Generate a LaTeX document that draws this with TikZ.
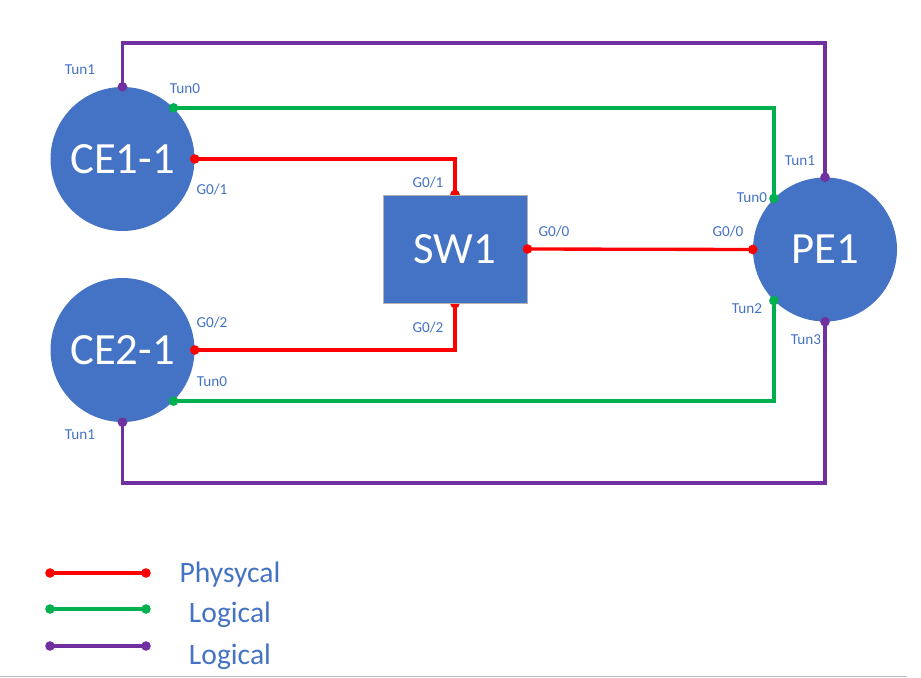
\documentclass[tikz,border=0pt]{standalone}
\usepackage{fontspec}
\setmainfont{Carlito}
\definecolor{nodeblue}{HTML}{4472C4}
\definecolor{lred}{HTML}{FF0000}
\definecolor{lgreen}{HTML}{00B050}
\definecolor{lpurple}{HTML}{7030A0}
\pgfdeclarelayer{front}
\pgfdeclarelayer{top}
\pgfsetlayers{main,front,top}
\begin{document}
\begin{tikzpicture}[x=0.75pt,y=-0.75pt,
  dev/.style={circle,fill=nodeblue,minimum size=108pt,inner sep=0pt,text=white,font=\fontsize{33.5}{38}\selectfont},
  swbox/.style={rectangle,fill=nodeblue,draw=gray!60,line width=0.75pt,minimum width=108pt,minimum height=81pt,inner sep=0pt,text=white,font=\fontsize{33.5}{38}\selectfont},
  lbl/.style={anchor=base,text=nodeblue,font=\fontsize{11.4}{13}\selectfont,inner sep=0pt},
  leg/.style={anchor=base,text=nodeblue,font=\fontsize{22.2}{26}\selectfont,inner sep=0pt},
  link/.style={line width=2.5pt},
  phys/.style={link,draw=lred},
  logg/.style={link,draw=lgreen},
  logp/.style={link,draw=lpurple}]
\useasboundingbox (0,0) rectangle (921,678);
\def\dotr{3.6pt}
% devices
\node[dev] (CE1) at (122.5,159) {CE1-1};
\node[dev] (CE2) at (122.5,350) {CE2-1};
\node[dev] (PE1) at (825,249.5) {PE1};
\begin{pgfonlayer}{front}
\node[swbox] (SW1) at (455,249) {SW1};
\end{pgfonlayer}
\coordinate (top) at (0,43);
\coordinate (bot) at (0,483);
% purple
\draw[logp] (CE1.north) -- (CE1.north |- top) -| (PE1.north);
\draw[logp] (CE2.south) -- (CE2.south |- bot) -| (PE1.south);
% green
\draw[logg] (CE1.45) -| (PE1.135);
\draw[logg] (CE2.-45) -| (PE1.225);
% red
\draw[phys] (CE1.east) -| (SW1.north);
\draw[phys] (CE2.east) -| (SW1.south);
\draw[phys] (SW1.east) -- (PE1.west);
% dots
\fill[lpurple] (CE1.north) circle (\dotr) (PE1.north) circle (\dotr) (CE2.south) circle (\dotr) (PE1.south) circle (\dotr);
\fill[lgreen] (CE1.45) circle (\dotr) (PE1.135) circle (\dotr) (CE2.-45) circle (\dotr) (PE1.225) circle (\dotr);
\fill[lred] (CE1.east) circle (\dotr) (CE2.east) circle (\dotr) (SW1.north) circle (\dotr) (SW1.south) circle (\dotr) (PE1.west) circle (\dotr);
\begin{pgfonlayer}{top}
\fill[lred] (SW1.east) circle (\dotr);
\end{pgfonlayer}
% labels
\node[lbl] (l1) at (80,74) {Tun1};
\node[lbl] (l2) at (185,93) {Tun0};
\node[lbl] (l3) at (212,194) {G0/1};
\node[lbl] (l4) at (428,187) {G0/1};
\node[lbl] (l5) at (428,332) {G0/2};
\node[lbl] (l6) at (554,236) {G0/0};
\node[lbl] (l7) at (728,236) {G0/0};
\node[lbl] (l8) at (800,165) {Tun1};
\node[lbl] (l9) at (752,202) {Tun0};
\node[lbl] (l10) at (747,313) {Tun2};
\node[lbl] (l11) at (806,344) {Tun3};
\node[lbl] (l12) at (212,327) {G0/2};
\node[lbl] (l13) at (212,386) {Tun0};
\node[lbl] (l14) at (80,439) {Tun1};
% legend
\coordinate (ra) at (50,573); \coordinate (rb) at (146,573);
\coordinate (ga) at (50,609); \coordinate (gb) at (146,609);
\coordinate (pa) at (50,646); \coordinate (pb) at (146,646);
\draw[phys] (ra) -- (rb);
\draw[logg] (ga) -- (gb);
\draw[logp] (pa) -- (pb);
\fill[lred] (ra) circle (\dotr) (rb) circle (\dotr);
\fill[lgreen] (ga) circle (\dotr) (gb) circle (\dotr);
\fill[lpurple] (pa) circle (\dotr) (pb) circle (\dotr);
\node[leg] (t1) at (230,582) {Physycal};
\node[leg] (t2) at (230,622) {Logical};
\node[leg] (t3) at (230,664) {Logical};
% bottom rule
\coordinate (ea) at (0,676.5); \coordinate (eb) at (907,676.5);
\draw[gray!50,line width=1.1pt] (ea) -- (eb);
\end{tikzpicture}
\end{document}
